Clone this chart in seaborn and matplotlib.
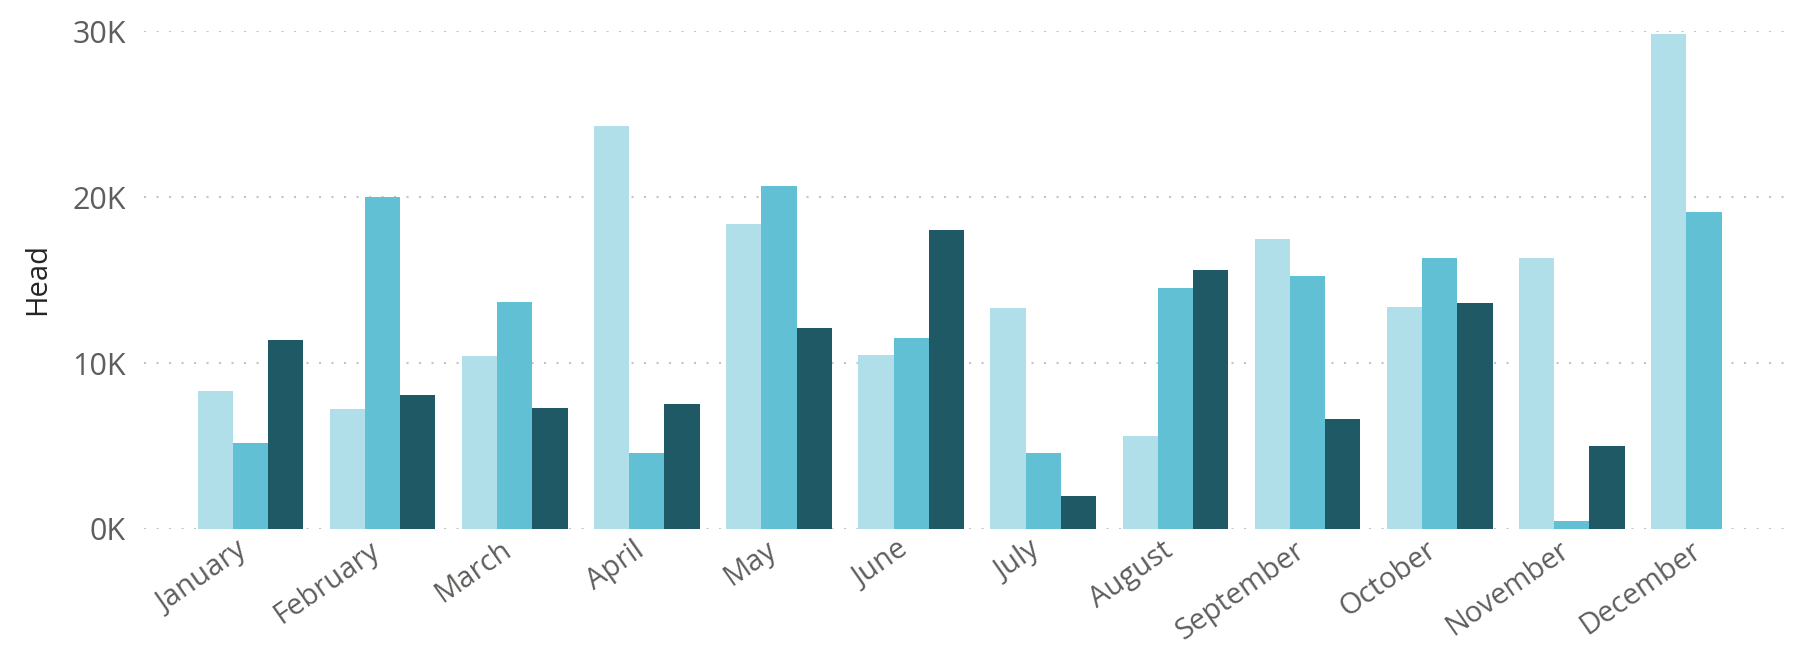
# Monthly head count, three grouped series

import pandas as pd
import numpy as np
import matplotlib.pyplot as plt
import matplotlib.transforms as mtrans
import seaborn as sns
from matplotlib.ticker import FuncFormatter

months = ['January', 'February', 'March', 'April', 'May', 'June', 'July',
          'August', 'September', 'October', 'November', 'December']
series_names = ['Series 1', 'Series 2', 'Series 3']
series_1 = [8300, 7200, 10400, 24300, 18400, 10500, 13300, 5600, 17500, 13400, 16300, 29800]
series_2 = [5200, 20000, 13650, 4600, 20650, 11500, 4600, 14550, 15250, 16300, 500, 19100]
series_3 = [11400, 8100, 7300, 7500, 12100, 18000, 2000, 15600, 6600, 13600, 5000, np.nan]

df = pd.DataFrame({
    'Month': months * 3,
    'Series': np.repeat(series_names, len(months)),
    'Head': series_1 + series_2 + series_3,
})

palette = ['#B0DFE9', '#62C0D4', '#1F5966']

sns.set_theme(style='white')
plt.rcParams['font.family'] = ['Open Sans', 'DejaVu Sans']

fig = plt.figure(figsize=(18.03, 6.49), dpi=100)
ax = fig.add_axes([0.0799, 0.185, 0.915, 0.767])

sns.barplot(data=df, x='Month', y='Head', hue='Series', order=months,
            hue_order=series_names, palette=palette, width=0.8,
            saturation=1, legend=False, linewidth=0, ax=ax, zorder=2)

ax.set_ylim(0, 30000)
ax.set_xlim(-0.805, 11.68)
ax.set_yticks([0, 10000, 20000, 30000])
ax.yaxis.set_major_formatter(FuncFormatter(lambda v, p: f'{int(v / 1000)}K'))
ax.grid(axis='y', color='#C4C4C4', linestyle=(0, (1, 5)), linewidth=1.5, zorder=0)
ax.grid(axis='x', visible=False)
for s in ax.spines.values():
    s.set_visible(False)

ax.tick_params(axis='y', length=0, pad=13, labelsize=22, labelcolor='#605E5C')
ax.tick_params(axis='x', length=0, pad=5, labelsize=21, labelcolor='#605E5C')
shift = mtrans.ScaledTranslation(-0.14, 0, fig.dpi_scale_trans)
for lab in ax.get_xticklabels():
    lab.set_rotation(35)
    lab.set_ha('right')
    lab.set_rotation_mode('anchor')
    lab.set_transform(lab.get_transform() + shift)

ax.set_xlabel('')
ax.set_ylabel('Head', fontsize=21, color='#252423', fontweight='medium')
ax.yaxis.set_label_coords(-0.0558, 0.503)

plt.savefig('out.png', dpi=100)
